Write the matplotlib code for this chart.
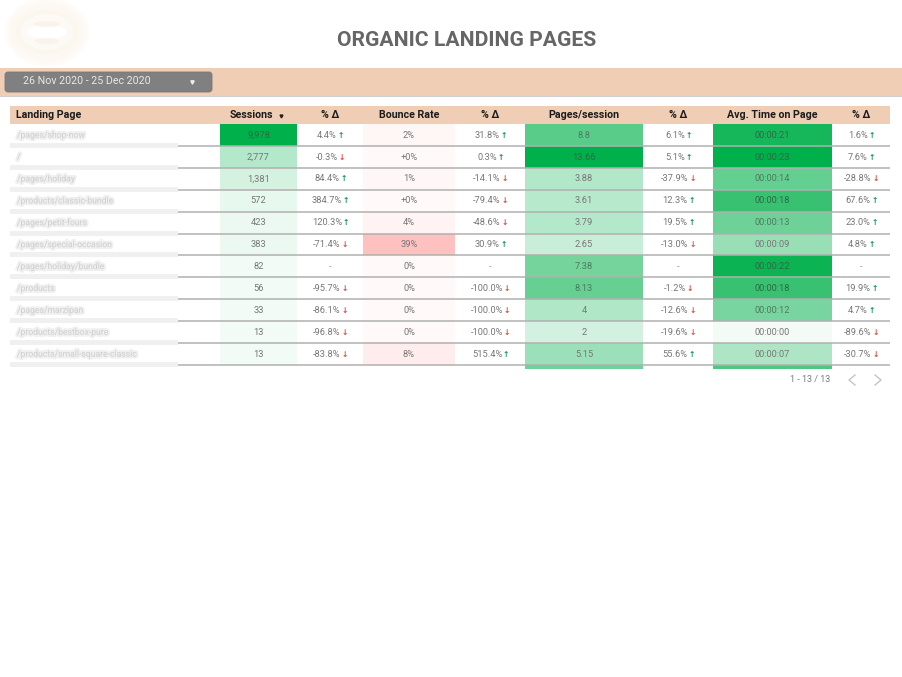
import matplotlib
matplotlib.use("Agg")
import matplotlib.pyplot as plt
import matplotlib.patheffects as pe
from matplotlib.patches import Rectangle, FancyBboxPatch, Ellipse
from matplotlib.colors import to_rgb

plt.rcParams['font.family'] = ['Roboto', 'DejaVu Sans']

# table data
pages = ["/pages/shop-now", "/", "/pages/holiday", "/products/classic-bundle", "/pages/petit-fours",
         "/pages/special-occasion", "/pages/holiday/bundle", "/products", "/pages/marzipan",
         "/products/bestbox-pure", "/products/small-square-classic"]
sessions = [9978, 2777, 1381, 572, 423, 383, 82, 56, 33, 13, 13]
sessions_d = [4.4, -0.3, 84.4, 384.7, 120.3, -71.4, None, -95.7, -86.1, -96.8, -83.8]
bounce = [2, 0, 1, 0, 4, 39, 0, 0, 0, 0, 8]
bounce_txt = ["2%", "+0%", "1%", "+0%", "4%", "39%", "0%", "0%", "0%", "0%", "8%"]
bounce_d = [31.8, 0.3, -14.1, -79.4, -48.6, 30.9, None, -100.0, -100.0, -100.0, 515.4]
pps = [8.8, 13.66, 3.88, 3.61, 3.79, 2.65, 7.38, 8.13, 4, 2, 5.15]
pps_d = [6.1, 5.1, -37.9, 12.3, 19.5, -13.0, None, -1.2, -12.6, -19.6, 55.6]
time_s = [21, 23, 14, 18, 13, 9, 22, 18, 12, 0, 7]
time_d = [1.6, 7.6, -28.8, 67.6, 23.0, 4.8, None, 19.9, 4.7, -89.6, -30.7]
# row 12 is cut off by the table edge, only its colour shows
next_pps = 7.8
next_time = 16

col_names = ["Sessions", "% Δ", "Bounce Rate", "% Δ", "Pages/session", "% Δ", "Avg. Time on Page", "% Δ"]
col_edges = [220, 297, 363, 455, 525, 643, 713, 832, 890]

PEACH = "#f0cdb5"
GREEN = "#00b04a"
RED = "#ffc0c0"
TXT = "#777777"

fig = plt.figure(figsize=(9.03, 6.77), dpi=100)
ax = fig.add_axes([0, 0, 1, 1])
ax.set_xlim(0, 903)
ax.set_ylim(677, 0)
ax.axis("off")

ROW_TOP = 124
ROW_H = 21.9


def blend(color, a):
    c = to_rgb(color)
    return tuple(1 - (1 - v) * a for v in c)


def heat(x0, x1, y0, y1, color, a):
    ax.add_patch(Rectangle((x0, y0), x1 - x0, y1 - y0, fc=blend(color, a), ec="none", zorder=1))


def green_level(v, vmax):
    return 0.045 + 0.955 * (v / vmax) ** 1.05


def delta_cell(cx, y, v):
    if v is None:
        ax.text(cx, y, "-", ha="center", va="center", fontsize=6.7, color="#999999", zorder=4)
        return
    t = ax.text(cx, y, f"{v:.1f}%", ha="center", va="center", fontsize=6.7, color=TXT, zorder=4)
    w = t.get_window_extent(fig.canvas.get_renderer()).width
    t.set_position((cx - 3, y))
    col = "#0a9a4a" if v >= 0 else "#f03c3c"
    ax.text(cx - 3 + w / 2 + 4, y, "↑" if v >= 0 else "↓", ha="center", va="center", fontsize=5.5,
            fontweight="bold", color=col, family=["DejaVu Sans"], zorder=4)


# logo (blurred in the original)
for rx, ry, a in [(42, 34, .08), (40, 32, .12), (38, 30, .16), (36, 28, .2)]:
    ax.add_patch(Ellipse((47, 32), rx * 2, ry * 2, fc=blend("#f3dcbc", a), ec="none", zorder=.1))
ax.add_patch(Ellipse((47, 32), 62, 44, fc="#fbf6ee", ec="none", zorder=.2))
ax.add_patch(Ellipse((47, 32), 52, 36, fc="#fdfaf6", ec="none", zorder=.3))
ax.add_patch(Ellipse((47, 32), 40, 14, fc="#ffffff", ec="none", zorder=.4))
for yy, ww in [(24, 26), (41, 24)]:
    ax.add_patch(Ellipse((47, yy), ww, 6, fc="#f9f3ea", ec="none", zorder=.5))

ax.text(467, 40, "ORGANIC LANDING PAGES", ha="center", va="center", fontsize=15.2, fontweight="bold", color="#666666")

# filter bar
ax.add_patch(Rectangle((0, 95), 903, 2, fc="#cfcfcf", ec="none"))
ax.add_patch(Rectangle((0, 68), 903, 27.5, fc=PEACH, ec="none"))
ax.add_patch(FancyBboxPatch((6, 73), 205, 18, boxstyle="round,pad=1,rounding_size=3", fc="#808080", ec="#777777", lw=.6))
ax.text(23, 81.5, "26 Nov 2020 - 25 Dec 2020", ha="left", va="center", fontsize=7.7, color="#e8e8e8")
ax.plot([192.5], [81.5], marker="v", ms=2.4, color="#eeeeee", zorder=3)

# header
ax.add_patch(Rectangle((10, 106), 880, 18, fc=PEACH, ec="none"))
ax.text(16, 115.3, "Landing Page", ha="left", va="center", fontsize=7.7, fontweight="bold", color="#1c1c1c")
for i, name in enumerate(col_names):
    cx = (col_edges[i] + col_edges[i + 1]) / 2
    if i == 0:
        cx -= 7.5
    ax.text(cx, 115.3, name, ha="center", va="center", fontsize=7.7, fontweight="bold", color="#1c1c1c")
ax.plot([281], [115.5], marker="v", ms=2.1, color="#222222")

# rows
for r in range(len(pages)):
    y0 = ROW_TOP + r * ROW_H
    y1 = y0 + ROW_H
    yc = y0 + ROW_H / 2 + 0.2
    ax.text(17, yc, pages[r], ha="left", va="center", fontsize=6.2, color="#cdcdcd", alpha=.8,
            path_effects=[pe.withStroke(linewidth=2.8, foreground="#e4e4e4", alpha=.55)], zorder=4)
    heat(col_edges[0], col_edges[1], y0, y1, GREEN, green_level(sessions[r], max(sessions)))
    heat(col_edges[2], col_edges[3], y0, y1, RED, 0.1 + 0.9 * bounce[r] / max(bounce))
    heat(col_edges[4], col_edges[5], y0, y1, GREEN, green_level(pps[r], max(pps)))
    heat(col_edges[6], col_edges[7], y0, y1, GREEN, green_level(time_s[r], max(time_s)))

    m, s = time_s[r] // 60, time_s[r] % 60
    cells = [f"{sessions[r]:,}", bounce_txt[r], f"{pps[r]:g}", f"00:{m:02d}:{s:02d}"]
    levels = [sessions[r] / max(sessions), 0, pps[r] / max(pps), time_s[r] / max(time_s)]
    for c, txt, lev in zip([0, 2, 4, 6], cells, levels):
        color = "#2c6a46" if lev > 0.75 else ("#4f7a60" if lev > 0.45 else TXT)
        ax.text((col_edges[c] + col_edges[c + 1]) / 2, yc, txt, ha="center", va="center",
                fontsize=6.7, color=color, zorder=4)
    for c, d in zip([1, 3, 5, 7], [sessions_d[r], bounce_d[r], pps_d[r], time_d[r]]):
        delta_cell((col_edges[c] + col_edges[c + 1]) / 2, yc, d)

    # row separators
    ax.add_patch(Rectangle((10, y1 - 3), 168, 5, fc="#f0f0f0", ec="none", zorder=2))
    ax.plot([178, 890], [y1, y1], color="#b0b0b0", lw=1.1, zorder=3, solid_capstyle="butt")

# cut off row
y_end = ROW_TOP + len(pages) * ROW_H
heat(col_edges[4], col_edges[5], y_end, y_end + 4, GREEN, green_level(next_pps, max(pps)))
heat(col_edges[6], col_edges[7], y_end, y_end + 4, GREEN, green_level(next_time, max(time_s)))

# pagination
ax.text(830, 379, "1 - 13 / 13", ha="right", va="center", fontsize=6.5, color="#7a7a7a")
ax.plot([855, 849, 855], [375, 380, 385], color="#c4c4c4", lw=1.0)
ax.plot([875, 881, 875], [375, 380, 385], color="#c4c4c4", lw=1.0)

fig.savefig("out.png", dpi=100)
